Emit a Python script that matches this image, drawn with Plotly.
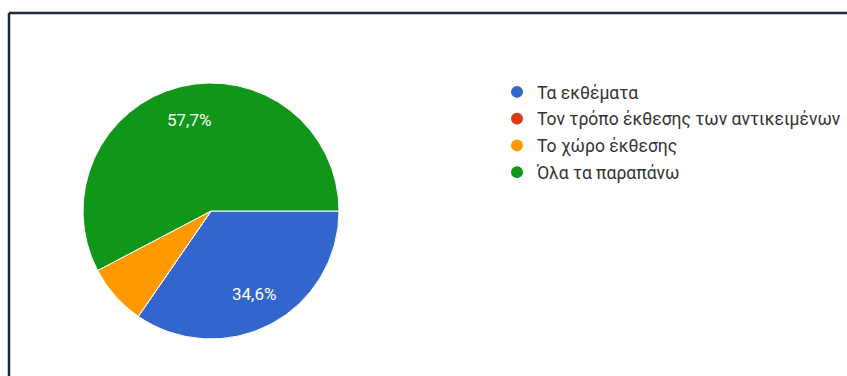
import math
import plotly.graph_objects as go

# Survey answers (26 responses)
labels = ["Τα εκθέματα", "Τον τρόπο έκθεσης των αντικειμένων", "Το χώρο έκθεσης", "Όλα τα παραπάνω"]
counts = [9, 0, 2, 15]
colors = ["#3366cc", "#dc3912", "#ff9900", "#109618"]

W, H = 847, 376
# Pie geometry in pixels
CX, CY, R = 211, 211, 128
LABEL_R = 0.73 * R

total = sum(counts)

fig = go.Figure()
fig.add_trace(go.Pie(
    labels=labels,
    values=counts,
    textinfo="none",
    marker=dict(colors=colors, line=dict(color="white", width=1)),
    sort=False,
    direction="clockwise",
    rotation=90,
    showlegend=False,
    hoverinfo="label+percent",
    domain=dict(x=[(CX - R) / W, (CX + R) / W],
                y=[1 - (CY + R) / H, 1 - (CY - R) / H]),
))

# Percent labels at each slice's mid-angle (clockwise from 3 o'clock);
# slices under 10% stay unlabelled
annotations = []
acc = 0.0
for c in counts:
    frac = c / total
    mid = (acc + frac / 2) * 2 * math.pi
    acc += frac
    if frac * 100 < 10:
        continue
    px = CX + LABEL_R * math.cos(mid)
    py = CY + LABEL_R * math.sin(mid)
    annotations.append(dict(
        x=px / W, y=1 - py / H, xref="paper", yref="paper",
        text=f"{frac * 100:.1f}%".replace(".", ","),
        showarrow=False, xanchor="center", yanchor="middle",
        font=dict(family="Roboto", size=17, color="white"),
    ))

# Legend entries with round markers
for lab, col in zip(labels, colors):
    fig.add_trace(go.Scatter(
        x=[None], y=[None], mode="markers", name=lab, legendgroup=lab,
        marker=dict(symbol="circle", size=12, color=col),
        hoverinfo="skip",
    ))

fig.update_layout(
    width=W, height=H,
    margin=dict(l=0, r=0, t=0, b=0),
    paper_bgcolor="white", plot_bgcolor="white",
    font=dict(family="Roboto", color="#333333"),
    xaxis=dict(visible=False), yaxis=dict(visible=False),
    annotations=annotations,
    legend=dict(
        x=497 / W, y=1 - 74 / H, xanchor="left", yanchor="top",
        font=dict(family="Roboto", size=17.5, color="#333333"),
        tracegroupgap=1, bgcolor="rgba(0,0,0,0)",
    ),
    shapes=[
        dict(type="line", xref="paper", yref="paper",
             x0=9 / W, x1=1, y0=1 - 13 / H, y1=1 - 13 / H,
             line=dict(color="#1c2a44", width=2.5)),
        dict(type="line", xref="paper", yref="paper",
             x0=9 / W, x1=9 / W, y0=0, y1=1 - 13 / H,
             line=dict(color="#1c2a44", width=2.5)),
    ],
)

fig.write_html("out.html")
